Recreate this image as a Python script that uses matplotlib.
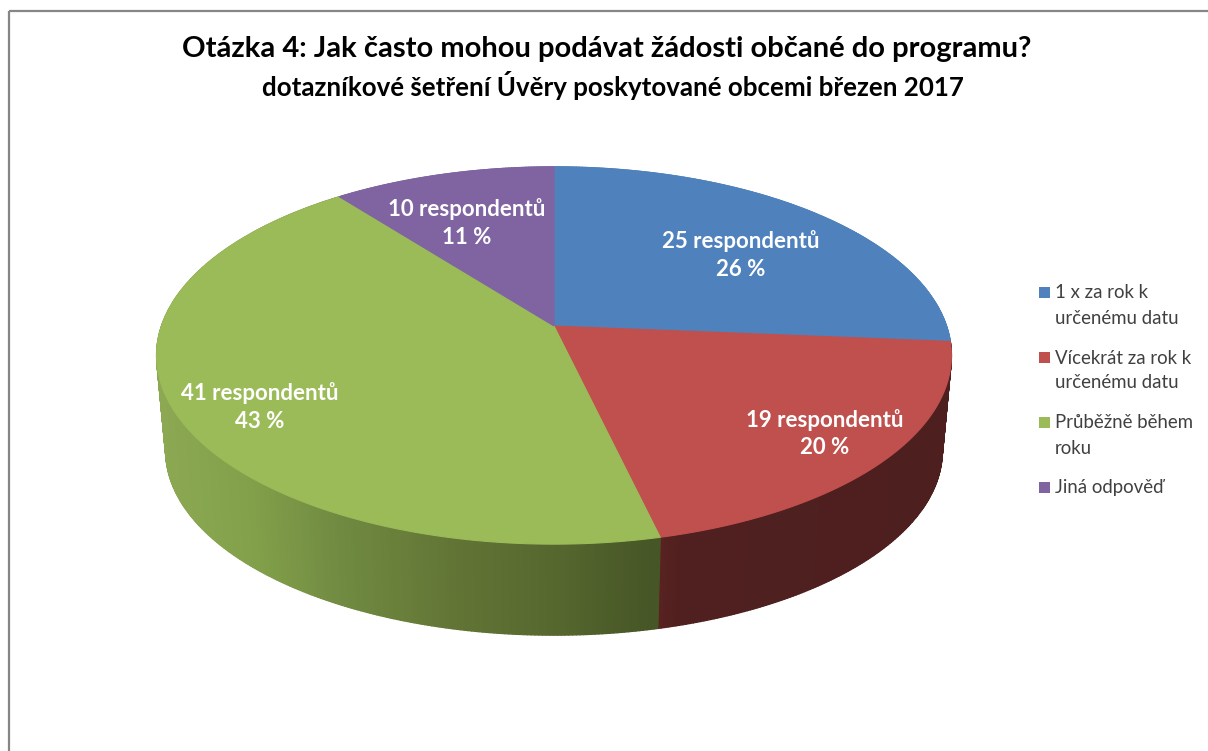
## 3D pie of the questionnaire answers, drawn by hand since matplotlib has no perspective pie

import numpy as np
import matplotlib
matplotlib.use('Agg')
import matplotlib.pyplot as plt
from matplotlib.collections import PolyCollection
from matplotlib.colors import to_rgb
from matplotlib.patches import Rectangle

plt.rcParams['font.family'] = ['Lato', 'DejaVu Sans']

# -------------------DATA--------------------

title= 'Otázka 4: Jak často mohou podávat žádosti občané do programu?'
subtitle= 'dotazníkové šetření Úvěry poskytované obcemi březen 2017'
categories= ['1 x za rok k\nurčenému datu', 'Vícekrát za rok k\nurčenému datu', 'Průběžně během\nroku', 'Jiná odpověď']
respondents= [25, 19, 41, 10]
colours= ['#4f81bd', '#c0504d', '#9bbb59', '#8064a2']

# -------------------GEOMETRY--------------------

cx= 554   # apex of the top face
cy= 326
R= 392.5  # size of the pie before perspective
S= 184
k= 0.1565 # strength of perspective
shrink= 0.977 # bottom face is a bit smaller
cy_bottom= 422

label_pos= [(741, 240), (825, 419), (260, 392), (467, 208)]
legend_y= [292, 357, 422, 487]
line_h= 25

# side shading as function of screen x
side_x= [155, 250, 340, 450, 550, 650]
side_green= ['#8ca852', '#82a04a', '#708a41', '#627535', '#57682f', '#475626']
side_red_x= [658, 680, 960]
side_red= ['#5a2322', '#4f201f', '#4d1f1e']


# -------------------DEFINE FUNCTIONS--------------------

# angle is clockwise from the top, projected onto the screen
def project(angle, scale=1.0, y0=cy):
    xc= np.sin(angle)
    yc= np.cos(angle)
    w= 1 + k*yc
    return cx + scale*R*xc/w, y0 - scale*S*yc/w


def side_colour(x, xs, stops):
    rgb= np.array([to_rgb(c) for c in stops])
    return [np.interp(x, xs, rgb[:, i]) for i in range(3)]


#--------------MAIN PROGRAM----------------------

fig= plt.figure(figsize=(12.08, 7.51), dpi=100)
ax= fig.add_axes([0, 0, 1, 1])
ax.set_xlim(0, 1208)
ax.set_ylim(751, 0)
ax.axis('off')

# chart border, runs off the picture on the right and bottom
ax.add_patch(Rectangle((9, 11), 1300, 900, fill=False, edgecolor='#868686', linewidth=1.6))

total= sum(respondents)
edges= np.cumsum([0] + respondents)/total*2*np.pi

# side wall first, so the top face covers the back of it
quads= []
quad_colours= []
for i in range(len(respondents)):
    t= np.linspace(edges[i], edges[i+1], int(respondents[i])*8)
    for a, b in zip(t[:-1], t[1:]):
        x1, y1= project(a)
        x2, y2= project(b)
        x3, y3= project(b, shrink, cy_bottom)
        x4, y4= project(a, shrink, cy_bottom)
        quads.append([(x1, y1), (x2, y2), (x3, y3), (x4, y4)])
        xm= (x1 + x2)/2
        if i == 1:
            quad_colours.append(side_colour(xm, side_red_x, side_red))
        elif i == 2:
            quad_colours.append(side_colour(xm, side_x, side_green))
        else:
            quad_colours.append(to_rgb(colours[i]))
ax.add_collection(PolyCollection(quads, facecolors=quad_colours, edgecolors=quad_colours, linewidths=1.0, zorder=1))

# top face, same colour edge hides the side wall stroke
for i in range(len(respondents)):
    t= np.linspace(edges[i], edges[i+1], 200)
    xs, ys= project(t)
    ax.fill(np.r_[cx, xs], np.r_[cy, ys], facecolor=colours[i], edgecolor=colours[i], linewidth=0.8, zorder=2)

# slice labels
for i, n in enumerate(respondents):
    pct= int(round(n/total*100))
    x, y= label_pos[i]
    ax.text(x, y + 1, str(n) + ' respondentů', color='white', fontsize=16, fontweight='bold', ha='center', va='center', zorder=3)
    ax.text(x, y + 29, str(pct) + ' %', color='white', fontsize=16, fontweight='bold', ha='center', va='center', zorder=3)

# legend
for i, name in enumerate(categories):
    ax.add_patch(Rectangle((1039, legend_y[i] - 5), 11, 11, color=colours[i], linewidth=0))
    for j, line in enumerate(name.split('\n')):
        ax.text(1055, legend_y[i] + 1 + j*line_h, line, color='#404040', fontsize=13.4, ha='left', va='center')

ax.text(607, 49, title, color='black', fontsize=21, fontweight='bold', ha='center', va='center')
ax.text(613, 85, subtitle, color='black', fontsize=18.6, fontweight='bold', ha='center', va='center')

plt.savefig('out.png', dpi=100)
plt.close()
